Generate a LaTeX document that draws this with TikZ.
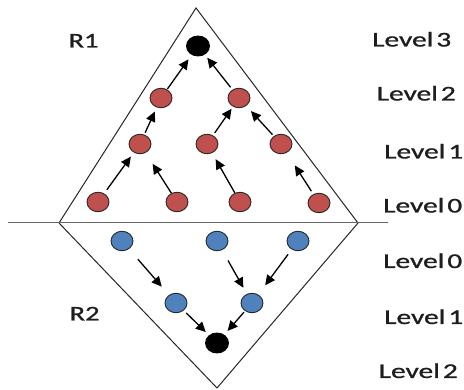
\documentclass[tikz,border=0pt]{standalone}
\usepackage{fontspec}
\setmainfont{Carlito}
\newfontfamily\lblfam[FakeBold=0.9]{Carlito}
\usetikzlibrary{arrows.meta,shapes.geometric}
\definecolor{redfill}{HTML}{C0504D}
\definecolor{bluefill}{HTML}{4F81BD}
\definecolor{txt}{HTML}{1E1E1E}
\newcommand{\lblfont}{\lblfam\fontsize{21}{21}\selectfont\spaceskip=0.1em\relax}
\begin{document}
\begin{tikzpicture}[x=1pt,y=-1pt,
  dot/.style={ellipse,minimum width=22pt,minimum height=19.5pt,inner sep=0pt,draw=black!85,line width=0.9pt},
  rdot/.style={dot,fill=redfill},
  bdot/.style={dot,fill=bluefill},
  kdot/.style={dot,fill=black,draw=black,minimum width=23pt,minimum height=20pt},
  arr/.style={-{Triangle[length=10pt,width=9.5pt]},line width=1.3pt},
  lbl/.style={font=\lblfont,text=txt,anchor=base west,inner sep=0pt},
  frame/.style={draw=black!85,line width=1pt},
  hline/.style={draw=black!60,line width=1pt}]
\useasboundingbox (0,0) rectangle (464,390);
% frame
\coordinate (A) at (196,8);
\coordinate (BL) at (59,223);
\coordinate (BR) at (358,223);
\coordinate (C) at (217,388);
\coordinate (HL) at (8,223);
\coordinate (HR) at (388,223);
\draw[frame] (BL) -- (A) -- (BR);
\draw[frame] (BL) -- (C) -- (BR);
\draw[hline] (HL) -- (HR);
% R1 nodes
\node[kdot] (top) at (198,46) {};
\node[rdot] (r2a) at (161,98) {};
\node[rdot] (r2b) at (239,98) {};
\node[rdot] (r1a) at (140,144) {};
\node[rdot] (r1b) at (207,144) {};
\node[rdot] (r1c) at (281,144) {};
\node[rdot] (r0a) at (98,202) {};
\node[rdot] (r0b) at (177,202) {};
\node[rdot] (r0c) at (240,202) {};
\node[rdot] (r0d) at (319,203) {};
% R2 nodes
\node[bdot] (b0a) at (122,241) {};
\node[bdot] (b0b) at (217,241) {};
\node[bdot] (b0c) at (298,241) {};
\node[bdot] (b1a) at (176,303) {};
\node[bdot] (b1b) at (252,303) {};
\node[kdot] (bot) at (217,343) {};
% R1 arrows
\draw[arr,shorten <=4.5pt,shorten >=5pt] (r0a) -- (r1a);
\draw[arr,shorten <=0pt,shorten >=13pt] (r0b) -- (r1a);
\draw[arr,shorten <=2pt,shorten >=4.5pt] (r1a) -- (r2a);
\draw[arr,shorten <=0.5pt,shorten >=5.5pt] (r2a) -- (top);
\draw[arr,shorten <=3pt,shorten >=4pt] (r2b) -- (top);
\draw[arr,shorten <=3pt,shorten >=2.5pt] (r1b) -- (r2b);
\draw[arr,shorten <=2pt,shorten >=7pt] (r1c) -- (r2b);
\draw[arr,shorten <=0pt,shorten >=7pt] (r0c) -- (r1b);
\draw[arr,shorten <=3.5pt,shorten >=15pt] (r0d) -- (r1c);
% R2 arrows
\draw[arr,shorten <=13.5pt,shorten >=11pt] (b0a) -- (b1a);
\draw[arr,shorten <=12pt,shorten >=7pt] (b0b) -- (b1b);
\draw[arr,shorten <=6pt,shorten >=11.5pt] (b0c) -- (b1b);
\draw[arr,shorten <=3.5pt,shorten >=4.5pt] (b1a) -- (bot);
\draw[arr,shorten <=1.5pt,shorten >=5pt] (b1b) -- (bot);
% labels
\node[lbl] (R1) at (68.5,47.5) {\scalebox{1.35}[1]{R1}};
\node[lbl] (R2) at (69.5,320.5) {\scalebox{1.35}[1]{R2}};
\node[lbl] (l3) at (372,46.5) {\scalebox{1.4}[1]{Level 3}};
\node[lbl] (l2u) at (376.5,100.5) {\scalebox{1.4}[1]{Level 2}};
\node[lbl] (l1u) at (384,158.5) {\scalebox{1.4}[1]{Level 1}};
\node[lbl] (l0u) at (383,212.5) {\scalebox{1.4}[1]{Level 0}};
\node[lbl] (l0d) at (383,268) {\scalebox{1.4}[1]{Level 0}};
\node[lbl] (l1d) at (384,324) {\scalebox{1.4}[1]{Level 1}};
\node[lbl] (l2d) at (378.5,378) {\scalebox{1.4}[1]{Level 2}};
\end{tikzpicture}
\end{document}
